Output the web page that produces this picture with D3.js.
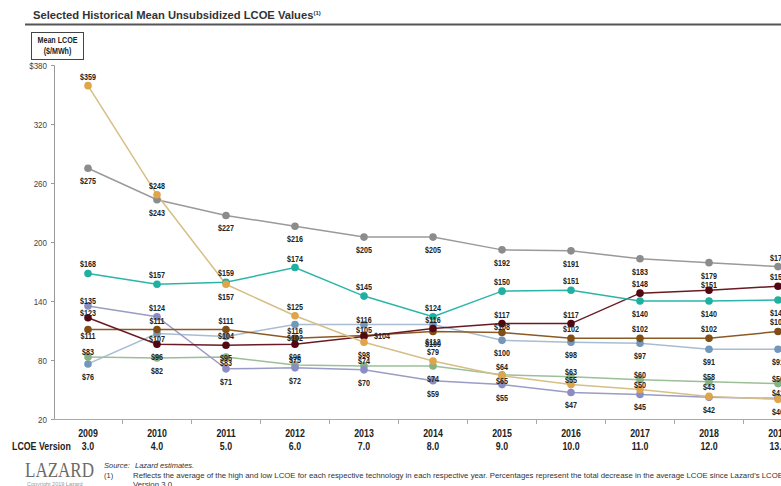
<!DOCTYPE html>
<html><head><meta charset="utf-8">
<script src="https://cdn.jsdelivr.net/npm/d3@7/dist/d3.min.js"></script>
<style>
html,body{margin:0;padding:0;background:#fff;overflow:hidden;}
svg{display:block;}
</style></head>
<body>
<svg id="c" width="781" height="486"></svg>
<script>
// ---- data ----
const years = [2009,2010,2011,2012,2013,2014,2015,2016,2017,2018,2019];
const versions = ["3.0","4.0","5.0","6.0","7.0","8.0","9.0","10.0","11.0","12.0","13.0"];
const yTicks = [20,80,140,200,260,320,380];
const seriesNames = ["Gas Peaking","Solar PV","Solar Thermal Tower","Nuclear","Coal","Geothermal","Gas Combined Cycle","Wind"];
const gasPeaking   = [275,243,227,216,205,205,192,191,183,179,175];
const solarPV      = [359,248,157,125,98,79,64,55,50,43,40];
const solarThermal = [168,157,159,174,145,124,150,151,140,140,141];
const nuclear      = [123,96,95,96,104,112,117,117,148,151,155];
const coal         = [111,111,111,102,105,109,108,102,102,102,109];
const geothermal   = [76,107,104,116,116,116,100,98,97,91,91];
const gasCC        = [83,82,83,75,74,74,65,63,60,58,56];
const wind         = [135,124,71,72,70,59,55,47,45,42,41];
// label placement codes (a above, n near-above, c centre, m near-below, b below, r right)
const lpGasPeaking   = ["b","b","b","b","b","b","b","b","b","b","a"];
const lpSolarPV      = ["a","a","b","a","b","a","a","n","n","a","b"];
const lpSolarThermal = ["a","a","a","a","a","a","a","a","b","b","b"];
const lpNuclear      = ["n","b","b","b","r","b","a","a","a","n","a"];
const lpCoal         = ["m","a","a","c","n","b","n","a","a","a","a"];
const lpGeothermal   = ["b","m","c","m","n","n","b","b","b","b","b"];
const lpGasCC        = ["n","b","m","n","n","b","m","n","n","n","n"];
const lpWind         = ["n","a","b","b","b","b","b","b","b","b","n"];

const seriesValues = [gasPeaking,solarPV,solarThermal,nuclear,coal,geothermal,gasCC,wind];
const seriesLabelPos = [lpGasPeaking,lpSolarPV,lpSolarThermal,lpNuclear,lpCoal,lpGeothermal,lpGasCC,lpWind];

// ---- styles ----
const lineColors = ["#9a9a9a","#d6bf86","#2bb5a8","#6a1a22","#8a5a24","#a9bdd2","#9cbf98","#9a9cc6"];
const dotColors  = ["#8c8c8c","#e0a54a","#1fb0a2","#520812","#7f4f17","#7396bb","#86b183","#8a8cc4"];
const drawOrder = [0,5,6,7,4,3,2,1];
const dyMap = {a:-9,n:-5,c:0,m:6,b:13,r:0};

const svg = d3.select("#c");
const sans = "'Liberation Sans',Arial,sans-serif";
const SX = 0.84;

function ntext(g, px, py, txt, size, anchor){
  return g.append("text")
    .attr("transform",`translate(${px},${py}) scale(${SX},1)`)
    .attr("text-anchor",anchor||"middle")
    .attr("font-family",sans).attr("font-weight","bold").attr("font-size",size).attr("fill","#222")
    .text(txt);
}

const x = d3.scalePoint().domain(years).range([88,778]);
const y = d3.scaleLinear().domain([20,380]).range([419,65]);

// title
const t = svg.append("text").attr("x",33).attr("y",19)
  .attr("font-family",sans).attr("font-weight","bold").attr("font-size",11.2).attr("fill","#333");
t.append("tspan").text("Selected Historical Mean Unsubsidized LCOE Values");
t.append("tspan").attr("font-size",6).attr("dy",-4).text("(1)");
svg.append("line").attr("x1",25).attr("x2",781).attr("y1",24.5).attr("y2",24.5)
  .attr("stroke","#555").attr("stroke-width",1.8);

// unit box
svg.append("rect").attr("x",31.5).attr("y",32.5).attr("width",52).attr("height",27)
  .attr("fill","#fff").attr("stroke","#444").attr("stroke-width",1);
ntext(svg,57.5,43,"Mean LCOE",8.5);
ntext(svg,57.5,54,"($/MWh)",8.5);

// y axis
const yAxis = d3.axisLeft(y).tickValues(yTicks).tickSize(3)
  .tickFormat(d => d===380 ? "$380" : d);
const gy = svg.append("g").attr("transform","translate(54,0)").call(yAxis);
gy.select(".domain").attr("stroke","#999");
gy.selectAll(".tick line").attr("stroke","#999");
gy.selectAll(".tick text").attr("font-family",sans).attr("font-size",9.5).attr("fill","#444")
  .attr("transform",`scale(${SX},1)`).attr("x",-7/SX);

// x axis
const step = x.step();
svg.append("line").attr("x1",54).attr("x2",781).attr("y1",419.5).attr("y2",419.5).attr("stroke","#aaa").attr("stroke-width",1.2);
svg.append("g").selectAll("line").data(years).join("line")
  .attr("x1",d=>x(d)+step/2).attr("x2",d=>x(d)+step/2)
  .attr("y1",419.5).attr("y2",424).attr("stroke","#aaa");
const gxl = svg.append("g");
years.forEach((yr,i)=>{
  ntext(gxl, x(yr), 437, yr, 10.5);
  ntext(gxl, x(yr), 450, versions[i], 10.5);
});
ntext(svg,12,450,"LCOE Version",10.5,"start");

// lines & dots
const line = d3.line().x((d,i)=>x(years[i])).y(d=>y(d));
const gl = svg.append("g");
drawOrder.forEach(k=>{
  gl.append("path").datum(seriesValues[k]).attr("d",line)
    .attr("fill","none").attr("stroke",lineColors[k]).attr("stroke-width",1.5);
});
drawOrder.forEach(k=>{
  gl.append("g").selectAll("circle").data(seriesValues[k]).join("circle")
    .attr("cx",(d,i)=>x(years[i])).attr("cy",d=>y(d)).attr("r",3.8).attr("fill",dotColors[k]);
});
// labels
const glab = svg.append("g");
seriesValues.forEach((vals,k)=>{
  vals.forEach((v,i)=>{
    const code = seriesLabelPos[k][i];
    ntext(glab, x(years[i]) + (code==="r" ? 18 : 0), y(v)+dyMap[code]+3, "$"+v, 8.5);
  });
});

// footer
svg.append("text").attr("x",25).attr("y",477).attr("font-family","'Liberation Serif','Times New Roman',serif")
  .attr("font-size",21).attr("fill","#6a6a6a").attr("textLength",69).attr("lengthAdjust","spacingAndGlyphs").text("LAZARD");
svg.append("text").attr("x",27).attr("y",486).attr("font-family",sans).attr("font-size",5.5).attr("fill","#999").text("Copyright 2019 Lazard");
svg.append("text").attr("x",104).attr("y",468).attr("font-family",sans).attr("font-style","italic").attr("font-size",7.5).attr("fill","#333").text("Source:");
svg.append("text").attr("x",135).attr("y",468).attr("font-family",sans).attr("font-style","italic").attr("font-size",7.5).attr("fill","#333").text("Lazard estimates.");
svg.append("text").attr("x",104).attr("y",478).attr("font-family",sans).attr("font-size",7.5).attr("fill","#333").text("(1)");
svg.append("text").attr("x",133).attr("y",478).attr("font-family",sans).attr("font-size",7.8).attr("fill","#333")
  .text("Reflects the average of the high and low LCOE for each respective technology in each respective year. Percentages represent the total decrease in the average LCOE since Lazard’s LCOE");
svg.append("text").attr("x",133).attr("y",487).attr("font-family",sans).attr("font-size",7.8).attr("fill","#333").text("Version 3.0.");
</script>
</body></html>
